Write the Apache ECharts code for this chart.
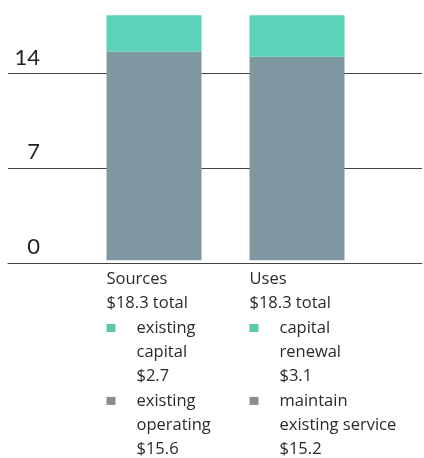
<!DOCTYPE html>
<html>
<head>
<meta charset="utf-8">
<script src="https://cdn.jsdelivr.net/npm/echarts@6/dist/echarts.min.js"></script>
<style>
  html, body { margin: 0; padding: 0; background: #fff; }
  #chart { width: 424px; height: 458px; }
</style>
</head>
<body>
<div id="chart"></div>
<script>
// Funding sources vs. uses, in $ millions
const categories = ['Sources', 'Uses'];
const operating = [15.6, 15.2];
const capital = [2.7, 3.1];
const capitalLabels = [['existing', 'capital'], ['capital', 'renewal']];
const operatingLabels = [['existing', 'operating'], ['maintain', 'existing service']];
const yTicks = [0, 7, 14];

const TEAL = '#5cd2b8';
const GRAY = '#7f97a1';
const INK = '#2a2a2a';
const FONT = '"Open Sans", Lato, sans-serif';

function money(v) { return '$' + v.toFixed(1); }

// Multi-line caption under each bar: name, total, then a keyed breakdown
function categoryLabel(name, i) {
  const total = operating[i] + capital[i];
  const block = (marker, words, value) => [
    '{' + marker + '|}{gap|}{t|' + words[0] + '}',
    ...words.slice(1).map(w => '{ind|}{t|' + w + '}'),
    '{ind|}{t|' + money(value) + '}'
  ];
  return [
    '{h|' + name + '}',
    '{h|' + money(total) + ' total}',
    ...block('mt', capitalLabels[i], capital[i]),
    ...block('mg', operatingLabels[i], operating[i])
  ].join('\n');
}

const textBase = { fontFamily: FONT, fontSize: 16.5, lineHeight: 24.3, color: INK, align: 'left' };

const chart = echarts.init(document.getElementById('chart'));
chart.setOption({
  animation: false,
  grid: [
    { left: 8, right: 2, top: 6, bottom: 195 },
    { left: 82.5, right: 55.5, top: 6, bottom: 195 }
  ],
  xAxis: [
    {
      gridIndex: 0, type: 'value', min: 0, max: 1, z: 10,
      axisLine: { show: true, lineStyle: { color: '#444', width: 1 } },
      axisTick: { show: false }, axisLabel: { show: false }, splitLine: { show: false }
    },
    {
      gridIndex: 1, type: 'category', data: categories,
      axisLine: { show: false }, axisTick: { show: false },
      axisLabel: {
        interval: 0,
        margin: 7,
        width: 95,
        align: 'center',
        verticalAlign: 'top',
        fontFamily: FONT,
        formatter: (v, i) => categoryLabel(v, i),
        rich: {
          h: textBase,
          t: textBase,
          mt: { width: 9, height: 8, backgroundColor: '#55c9a8', align: 'left' },
          mg: { width: 9, height: 8, backgroundColor: '#8a8e92', align: 'left' },
          gap: { width: 21, align: 'left' },
          ind: { width: 30, align: 'left' }
        }
      }
    }
  ],
  yAxis: [
    {
      gridIndex: 0, type: 'value', min: yTicks[0], max: 19, interval: yTicks[1] - yTicks[0],
      axisLine: { show: false }, axisTick: { show: false },
      splitLine: { show: true, showMaxLine: false, lineStyle: { color: '#444', width: 1 } },
      axisLabel: {
        inside: true, margin: 32, align: 'right', verticalAlign: 'bottom',
        padding: [0, 0, 5, 0],
        showMaxLabel: false,
        fontFamily: 'Lato, sans-serif', fontSize: 22, color: '#222',
        formatter: v => (yTicks.includes(v) ? String(v) : '')
      }
    },
    {
      gridIndex: 1, type: 'value', min: yTicks[0], max: 19,
      show: false
    }
  ],
  series: [
    {
      name: 'operating', type: 'bar', xAxisIndex: 1, yAxisIndex: 1, stack: 'total',
      barWidth: 95, data: operating, itemStyle: { color: GRAY }
    },
    {
      name: 'capital', type: 'bar', xAxisIndex: 1, yAxisIndex: 1, stack: 'total',
      barWidth: 95, data: capital, itemStyle: { color: TEAL }
    }
  ]
});
</script>
</body>
</html>
